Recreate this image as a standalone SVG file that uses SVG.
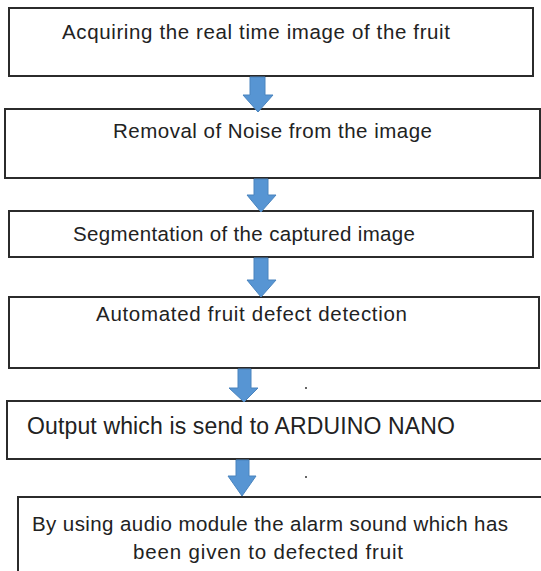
<svg xmlns="http://www.w3.org/2000/svg" width="541" height="571" viewBox="0 0 541 571">
<style>
.box{fill:#fff;stroke:#2b2b2b;stroke-width:2}
.lbl{font-family:"Liberation Sans",Arial,sans-serif;font-size:20.5px;fill:#222}
.big{font-size:23px}
.arrow{fill:#5795D3;stroke:#4A84BE;stroke-width:1}
.dot{fill:#333}
</style>
<rect width="541" height="571" fill="#fff"/>
<g id="n1"><rect class="box" x="9" y="8" width="524" height="68"/><text class="lbl" x="62" y="39" textLength="388">Acquiring the real time image of the fruit</text></g>
<g id="n2"><rect class="box" x="5" y="109" width="535" height="69"/><text class="lbl" x="113" y="138" textLength="319">Removal of Noise from the image</text></g>
<g id="n3"><rect class="box" x="9" y="211" width="524" height="46"/><text class="lbl" x="73" y="241" textLength="342">Segmentation of the captured image</text></g>
<g id="n4"><rect class="box" x="9" y="297" width="530" height="71"/><text class="lbl" x="96" y="321" textLength="311">Automated fruit defect detection</text></g>
<g id="n5"><rect class="box" x="7" y="401" width="540" height="58"/><text class="lbl big" x="27" y="434" textLength="428">Output which is send to ARDUINO NANO</text></g>
<g id="n6"><rect class="box" x="18" y="497" width="530" height="80"/><text class="lbl" x="32" y="531" textLength="476">By using audio module the alarm sound which has</text><text class="lbl" x="133" y="559" textLength="270">been given to defected fruit</text></g>
<g id="connectors">
<path class="arrow" d="M250,77 H265 V95 H273 L258,112 L243,95 H250 Z"/>
<path class="arrow" d="M254,179 H268 V195 H276 L261,212 L247,195 H254 Z"/>
<path class="arrow" d="M254,258 H268 V280 H276 L261,297 L247,280 H254 Z"/>
<path class="arrow" d="M238,369 H251 V388 H258 L244,402 L229,388 H238 Z"/>
<path class="arrow" d="M236,460 H249 V476 H256 L242,496 L228,476 H236 Z"/>
</g>
<circle class="dot" cx="306" cy="388" r="1"/>
<circle class="dot" cx="306" cy="477" r="1"/>
</svg>
